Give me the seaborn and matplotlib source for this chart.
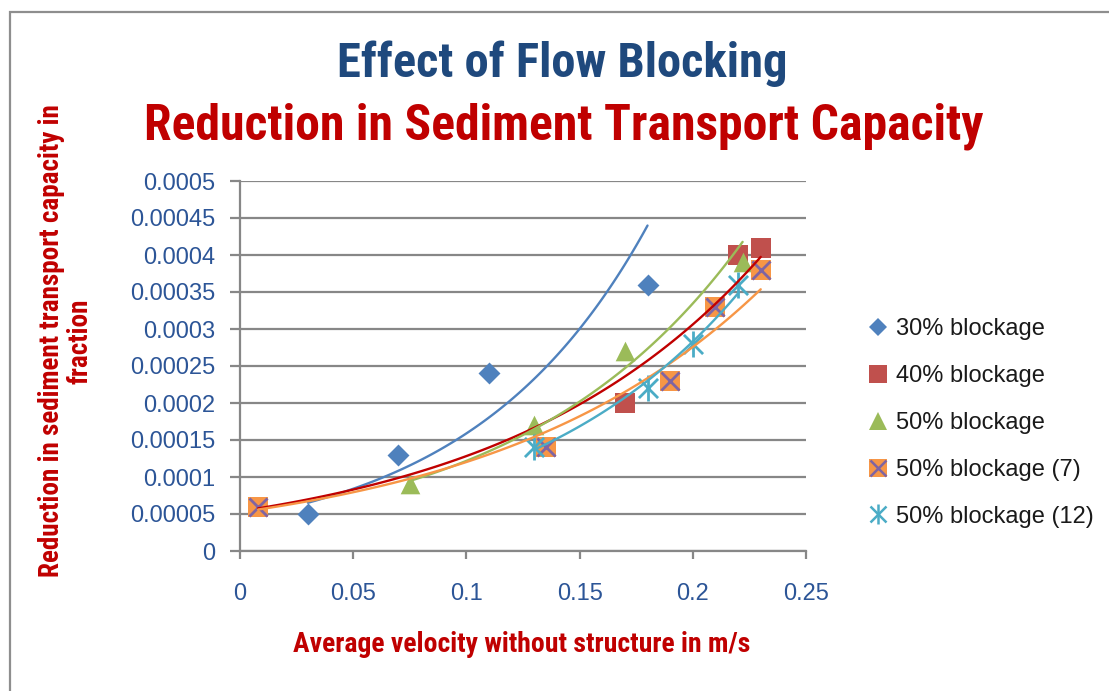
import numpy as np
import matplotlib
matplotlib.use("Agg")
import matplotlib.pyplot as plt
import seaborn as sns
from matplotlib import font_manager as fm
from matplotlib.lines import Line2D
from matplotlib.patches import Rectangle

# ------------------------------
# Data
# ------------------------------
vel_30 = [0.03, 0.07, 0.11, 0.18]
red_30 = [0.00005, 0.00013, 0.00024, 0.00036]

vel_40 = [0.008, 0.17, 0.22, 0.23]
red_40 = [0.00006, 0.0002, 0.0004, 0.00041]

vel_50 = [0.075, 0.13, 0.17, 0.222]
red_50 = [0.00009, 0.00017, 0.00027, 0.00039]

vel_50_7 = [0.008, 0.135, 0.19, 0.21, 0.23]
red_50_7 = [0.00006, 0.00014, 0.00023, 0.00033, 0.00038]

vel_50_12 = [0.13, 0.18, 0.2, 0.22]
red_50_12 = [0.00014, 0.00022, 0.00028, 0.00036]

series_labels = ["30% blockage", "40% blockage", "50% blockage",
                 "50% blockage (7)", "50% blockage (12)"]

x_ticks = [0, 0.05, 0.1, 0.15, 0.2, 0.25]
x_tick_labels = ["0", "0.05", "0.1", "0.15", "0.2", "0.25"]
y_ticks = [0, 0.00005, 0.0001, 0.00015, 0.0002, 0.00025, 0.0003,
           0.00035, 0.0004, 0.00045, 0.0005]
y_tick_labels = ["0", "0.00005", "0.0001", "0.00015", "0.0002", "0.00025",
                 "0.0003", "0.00035", "0.0004", "0.00045", "0.0005"]


# ------------------------------
# Fonts: look for a narrow bold face for the titles
# ------------------------------
def pick_narrow_bold():
    def is_bold(f):
        w = f.weight if isinstance(f.weight, int) else fm.weight_dict.get(f.weight, 400)
        return w >= 700 and w < 800
    cands = [f for f in fm.fontManager.ttflist if is_bold(f) and f.style == "normal"]
    order = ["Liberation Sans Narrow", "Arial Narrow", "Roboto Condensed",
             "Noto Sans Condensed", "Open Sans Condensed", "DejaVu Sans Condensed"]
    for name in order:
        for f in cands:
            if f.name == name:
                return f.fname, 1.0
    for f in cands:
        low = f.name.lower()
        if ("narrow" in low or "condensed" in low) and "extra" not in low and "semi" not in low:
            return f.fname, 1.0
    for f in cands:
        if f.stretch == "condensed" and f.name in ("Noto Sans", "Open Sans", "DejaVu Sans", "Roboto"):
            return f.fname, 1.0
    return None, 0.82


narrow_file, size_k = pick_narrow_bold()


def narrow(size):
    if narrow_file:
        return fm.FontProperties(fname=narrow_file, size=size)
    return fm.FontProperties(family="Liberation Sans", weight="bold", size=size * size_k)


# ------------------------------
# Style
# ------------------------------
sns.set_style("white")
plt.rcParams['font.family'] = ['Liberation Sans', 'DejaVu Sans']

GRID = "#878787"
TICK_BLUE = "#2C5597"
DARK_RED = "#C00000"
CYAN = "#4BACC6"

W, H = 1109, 691
fig = plt.figure(figsize=(W / 100, H / 100), dpi=100)
ax = fig.add_axes([240 / W, 1 - 551 / H, (806 - 240) / W, (551 - 181) / H])

# chart frame (only top/left edges visible in the crop)
fig.patches.append(Rectangle((10 / W, -0.1), 1.2, 1 - 12 / H + 0.1,
                             transform=fig.transFigure, fill=False,
                             edgecolor="#8E8E8E", lw=1.6, zorder=0))


def exp_trend(x, y):
    b, ln_a = np.polyfit(x, np.log(y), 1)
    xs = np.linspace(min(x), max(x), 120)
    return xs, np.exp(ln_a + b * xs)


series = [
    (vel_30, red_30, dict(marker="D", s=125, color="#4F81BD"), "#4F81BD"),
    (vel_40, red_40, dict(marker="s", s=210, color="#C0504D"), DARK_RED),
    (vel_50, red_50, dict(marker="^", s=200, color="#9BBB59"), "#9BBB59"),
    (vel_50_7, red_50_7, dict(marker="s", s=200, color="#F79646"), "#F79646"),
    (vel_50_12, red_50_12, None, CYAN),
]

for x, y, mk, line_col in series:
    if mk is not None:
        sns.scatterplot(x=x, y=y, ax=ax, linewidth=0, zorder=3, legend=False, **mk)
    xs, ys = exp_trend(x, y)
    sns.lineplot(x=xs, y=ys, ax=ax, color=line_col, lw=1.7, zorder=5, legend=False)

# purple cross on the orange squares; cyan asterisk = X plus vertical bar
ax.scatter(vel_50_7, red_50_7, marker="x", s=170, color="#8064A2", linewidths=2, zorder=4)
ax.scatter(vel_50_12, red_50_12, marker="x", s=190, color=CYAN, linewidths=2, zorder=4)
ax.scatter(vel_50_12, red_50_12, marker="|", s=330, color=CYAN, linewidths=2, zorder=4)

ax.set_xlim(0, 0.25)
ax.set_ylim(0, 0.0005)
ax.set_xticks(x_ticks)
ax.set_xticklabels(x_tick_labels)
ax.set_yticks(y_ticks)
ax.set_yticklabels(y_tick_labels)
ax.set_xlabel("")
ax.set_ylabel("")

ax.grid(axis="y", color=GRID, lw=1.6)
ax.set_axisbelow(True)
for side in ["top", "right"]:
    ax.spines[side].set_visible(False)
for side in ["left", "bottom"]:
    ax.spines[side].set_color(GRID)
    ax.spines[side].set_linewidth(1.6)
ax.tick_params(axis="y", direction="out", length=7, width=1.6, color=GRID,
               labelcolor=TICK_BLUE, labelsize=17, pad=11, left=True)
ax.tick_params(axis="x", direction="out", length=6, width=1.6, color=GRID,
               labelcolor=TICK_BLUE, labelsize=17, pad=17, bottom=True)

# --- Legend ---
handles = [
    Line2D([], [], ls="", marker="D", ms=9, color="#4F81BD", mew=0),
    Line2D([], [], ls="", marker="s", ms=13, color="#C0504D", mew=0),
    Line2D([], [], ls="", marker="^", ms=13, color="#9BBB59", mew=0),
    (Line2D([], [], ls="", marker="s", ms=13, color="#F79646", mew=0),
     Line2D([], [], ls="", marker="x", ms=11, color="#8064A2", mew=1.8)),
    (Line2D([], [], ls="", marker="x", ms=11, color=CYAN, mew=1.8),
     Line2D([], [], ls="", marker="|", ms=15, color=CYAN, mew=1.8)),
]
fig.legend(handles, series_labels, loc="center left",
           bbox_to_anchor=(866 / W, 1 - 423 / H), frameon=False,
           fontsize=17, handlelength=1.0, handletextpad=0.25,
           labelspacing=1.05, borderpad=0, borderaxespad=0,
           labelcolor="#1A1A1A")

# --- Titles and axis labels ---
fig.text(562 / W, 1 - 77 / H, "Effect of Flow Blocking", ha="center",
         va="baseline", fontproperties=narrow(35), color="#1F497D")
fig.text(564 / W, 1 - 139 / H, "Reduction in Sediment Transport Capacity",
         ha="center", va="baseline", fontproperties=narrow(35.8), color=DARK_RED)
fig.text(66 / W, 1 - 341 / H,
         "Reduction in sediment transport capacity in\nfraction",
         rotation=90, ha="center", va="center", multialignment="center",
         fontproperties=narrow(19.5), color=DARK_RED, linespacing=1.05)
fig.text(522 / W, 1 - 645 / H, "Average velocity without structure in m/s",
         ha="center", va="center", fontproperties=narrow(20), color=DARK_RED)

fig.savefig("out.png", dpi=100)
